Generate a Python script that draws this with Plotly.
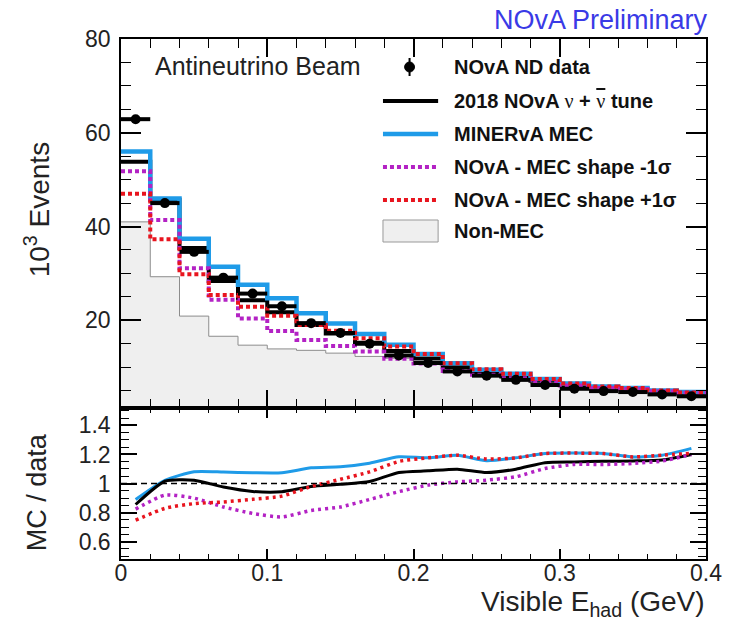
import numpy as np
import plotly.graph_objects as go

# Binning: visible hadronic energy, 20 bins of 0.02 GeV
bin_edges = [round(0.02 * i, 2) for i in range(21)]

# Event counts in units of 10^3 per bin
data_counts = [62.9, 45.0, 34.6, 29.1, 25.7, 23.0, 19.4, 17.3, 15.0, 12.5,
               10.9, 9.1, 8.2, 7.3, 6.2, 5.4, 4.9, 4.7, 4.2, 3.8]
tune_counts = [53.8, 45.7, 35.4, 28.4, 24.3, 21.7, 19.0, 17.2, 15.2, 13.45,
               11.85, 10.0, 8.82, 8.02, 7.09, 6.20, 5.65, 5.43, 4.88, 4.56]
minerva_counts = [56.0, 46.0, 37.4, 31.4, 27.6, 24.7, 21.5, 19.3, 17.1, 14.8,
                  12.83, 10.87, 9.48, 8.59, 7.48, 6.53, 5.91, 5.56, 5.02, 4.72]
shape_minus_counts = [51.8, 41.4, 31.1, 24.4, 20.4, 17.7, 15.8, 14.5, 13.35, 11.8,
                      10.78, 9.2, 8.39, 7.64, 6.84, 6.11, 5.54, 5.35, 4.85, 4.56]
shape_plus_counts = [47.0, 37.3, 29.8, 25.4, 22.9, 21.0, 19.0, 17.8, 16.2, 14.4,
                     12.83, 10.87, 9.58, 8.59, 7.48, 6.53, 5.91, 5.56, 5.02, 4.59]
non_mec_counts = [41.0, 29.3, 20.9, 16.6, 14.7, 13.9, 13.6, 13.0, 12.3, 11.9,
                  10.7, 9.0, 8.1, 7.4, 6.5, 5.9, 5.3, 5.1, 4.6, 4.3]

BLUE = "#1f9be8"
MAGENTA = "#b322c4"
RED = "#e8141e"
FONT = "Liberation Sans, Arial, sans-serif"

edges = np.array(bin_edges)
centers = 0.5 * (edges[:-1] + edges[1:])
half_width = 0.5 * np.diff(edges)
data = np.array(data_counts)


def step(vals):
    """x/y arrays for an 'hv' step histogram spanning all bin edges."""
    v = list(vals)
    return list(edges), v + [v[-1]]


fig = go.Figure()

# ---- upper panel: event spectra ----
sx, sy = step(non_mec_counts)
fig.add_trace(go.Scatter(x=sx, y=sy, mode="lines", line_shape="hv",
                         fill="tozeroy", fillcolor="#efefef",
                         line=dict(color="#8c8c8c", width=1),
                         xaxis="x", yaxis="y", showlegend=False))

for vals, color, dash, w in [
    (tune_counts, "black", "solid", 4),
    (minerva_counts, BLUE, "solid", 4.5),
    (shape_minus_counts, MAGENTA, "4px,3px", 4),
    (shape_plus_counts, RED, "4px,3px", 4),
]:
    sx, sy = step(vals)
    fig.add_trace(go.Scatter(x=sx, y=sy, mode="lines", line_shape="hv",
                             line=dict(color=color, width=w, dash=dash),
                             xaxis="x", yaxis="y", showlegend=False))

fig.add_trace(go.Scatter(x=centers, y=data, mode="markers",
                         marker=dict(color="black", size=10, symbol="circle"),
                         error_x=dict(type="data", array=half_width, color="black",
                                      thickness=4, width=0),
                         xaxis="x", yaxis="y", showlegend=False))

# ---- lower panel: MC / data ratios ----
for vals, color, dash, w in [
    (minerva_counts, BLUE, "solid", 3),
    (tune_counts, "black", "solid", 3),
    (shape_minus_counts, MAGENTA, "3px,4px", 3.5),
    (shape_plus_counts, RED, "3px,4px", 3.5),
]:
    ratio = np.array(vals) / data
    fig.add_trace(go.Scatter(x=centers, y=ratio, mode="lines",
                             line=dict(color=color, width=w, dash=dash,
                                       shape="spline", smoothing=0.6),
                             xaxis="x2", yaxis="y2", showlegend=False))

fig.add_shape(type="line", xref="x2 domain", yref="y2", x0=0, x1=1, y0=1, y1=1,
              line=dict(color="black", width=1.5, dash="6px,4px"))

# ---- layout geometry ----
L, R, T, B = 121, 19, 39, 65
W, H = 734, 624
PW, PH = W - L - R, H - T - B
split = (H - B - 408) / PH


def px(xp):
    return (xp - L) / PW


def py(yp):
    return (H - B - yp) / PH


axis_common = dict(showline=True, linecolor="black", linewidth=1.5, mirror="allticks",
                   ticks="inside", tickcolor="black", showgrid=False, zeroline=False,
                   tickfont=dict(family=FONT, size=23, color="#222"))

fig.update_layout(
    width=W, height=H,
    margin=dict(l=L, r=R, t=T, b=B),
    paper_bgcolor="white", plot_bgcolor="white",
    font=dict(family=FONT, color="black"),
    xaxis=dict(domain=[0, 1], anchor="y", range=[0, 0.4], tickmode="linear", tick0=0,
               dtick=0.1, ticklen=18, tickwidth=1.5, showticklabels=False,
               minor=dict(dtick=0.02, tick0=0, ticklen=9, ticks="inside",
                          tickcolor="black", tickwidth=1.2),
               matches="x2", **axis_common),
    yaxis=dict(domain=[split, 1], anchor="x", range=[1.3, 80], tickmode="linear",
               tick0=0, dtick=20, ticklen=20, tickwidth=1.5, ticklabelstandoff=4,
               minor=dict(dtick=5, tick0=0, ticklen=10, ticks="inside",
                          tickcolor="black", tickwidth=1.2),
               **axis_common),
    xaxis2=dict(domain=[0, 1], anchor="y2", range=[0, 0.4], tickmode="linear", tick0=0,
                dtick=0.1, ticklen=10, tickwidth=1.5, ticklabelstandoff=-7,
                minor=dict(dtick=0.02, tick0=0, ticklen=5, ticks="inside",
                           tickcolor="black", tickwidth=1.2),
                **axis_common),
    yaxis2=dict(domain=[0, split], anchor="x2", range=[0.48, 1.52], tickmode="linear",
                tick0=0, dtick=0.2, ticklen=16, tickwidth=1.5, ticklabelstandoff=4,
                minor=dict(dtick=0.05, tick0=0, ticklen=8, ticks="inside",
                           tickcolor="black", tickwidth=1.2),
                **axis_common),
)

ann = []
ann.append(dict(text="NOvA Preliminary", x=px(719), y=py(20), xanchor="right",
                yanchor="middle", font=dict(family=FONT, size=27, color="#3a3ae6")))
ann.append(dict(text="Antineutrino Beam", x=px(153), y=py(66), xanchor="left",
                yanchor="middle", font=dict(family=FONT, size=25, color="#222")))
ann.append(dict(text="10<sup>3</sup> Events", x=px(36), y=py(210), textangle=-90,
                xanchor="center", yanchor="middle",
                font=dict(family=FONT, size=28, color="#222")))
ann.append(dict(text="MC / data", x=px(36), y=py(492), textangle=-90,
                xanchor="center", yanchor="middle",
                font=dict(family=FONT, size=27, color="#222")))
ann.append(dict(text="Visible E<sub>had</sub> (GeV)", x=px(716), y=py(603),
                xanchor="right", yanchor="middle",
                font=dict(family=FONT, size=28, color="#222")))

# ---- legend ----
NU = "<span style='font-family:Liberation Serif;font-weight:normal'>ν</span>"
NUBAR = ("<span style='font-family:Liberation Serif;font-weight:normal;"
         "text-decoration:overline'>ν</span>")
legend_rows = [
    ("NOvA ND data", 67),
    ("2018 NOvA " + NU + " + " + NUBAR + " tune", 101),
    ("MINERvA MEC", 134),
    ("NOvA - MEC shape -1σ", 167),
    ("NOvA - MEC shape +1σ", 200),
    ("Non-MEC", 231),
]
for label, yp in legend_rows:
    ann.append(dict(text="<b>" + label + "</b>", x=px(457), y=py(yp), xanchor="left",
                    yanchor="middle", font=dict(family=FONT, size=20, color="#111")))

for a in ann:
    a.update(xref="paper", yref="paper", showarrow=False)
fig.update_layout(annotations=ann)

shapes = []
# data marker sample
shapes.append(dict(type="line", x0=px(414), x1=px(414), y0=py(58), y1=py(76),
                   line=dict(color="black", width=2)))
shapes.append(dict(type="circle", x0=px(409), x1=px(419), y0=py(72), y1=py(62),
                   fillcolor="black", line=dict(color="black", width=1)))
for yp, color, dash, w in [(101, "black", "solid", 4), (134, BLUE, "solid", 4.5),
                           (167, MAGENTA, "4px,3px", 4), (200, RED, "4px,3px", 4)]:
    shapes.append(dict(type="line", x0=px(387), x1=px(443), y0=py(yp), y1=py(yp),
                       line=dict(color=color, width=w, dash=dash)))
shapes.append(dict(type="rect", x0=px(387), x1=px(443), y0=py(242), y1=py(220),
                   fillcolor="#efefef", line=dict(color="#999", width=1)))
for s in shapes:
    s.update(xref="paper", yref="paper")
    fig.add_shape(**s)

fig.write_html("out.html")
